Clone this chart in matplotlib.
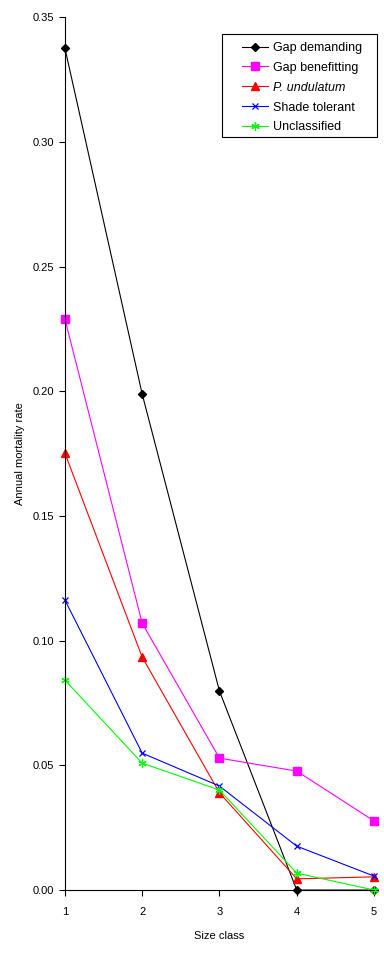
import numpy as np
import matplotlib
matplotlib.use("Agg")
from matplotlib import pyplot as plt
from matplotlib.patches import Rectangle

plt.rcParams['font.family'] = ['Liberation Sans', 'DejaVu Sans']

size_class = [1, 2, 3, 4, 5]
gap_demanding = [0.3376, 0.1989, 0.0798, 0.0, 0.0]
gap_benefitting = [0.2290, 0.1070, 0.0529, 0.0477, 0.0277]
p_undulatum = [0.1752, 0.0934, 0.0390, 0.0045, 0.0053]
shade_tolerant = [0.1163, 0.0549, 0.0417, 0.0176, 0.0056]
unclassified = [0.0842, 0.0509, 0.0401, 0.0068, 0.0]

W, H = 384, 955
fig = plt.figure(figsize=(3.84, 9.55), dpi=100)
ax = fig.add_axes([0.169, 0.068, 0.805, 0.914])

ax.plot(size_class, gap_demanding, color="black", marker="D", markersize=4, lw=0.8, label="Gap demanding", clip_on=False)
ax.plot(size_class, gap_benefitting, color="#ff00ff", marker="s", markersize=6, lw=0.8, label="Gap benefitting", clip_on=False)
ax.plot(size_class, p_undulatum, color="red", marker="^", markersize=6, lw=0.8, label="P. undulatum", clip_on=False)
ax.plot(size_class, shade_tolerant, color="blue", marker="x", markersize=5, mew=0.9, lw=0.8, label="Shade tolerant", clip_on=False)
ax.plot(size_class, unclassified, color="#00ff00", marker=(6, 2, 0), markersize=6, mew=0.9, lw=0.8, label="Unclassified", clip_on=False)

ax.set_xlim(1, 5)
ax.set_ylim(0, 0.35)
ax.set_xticks(size_class)
ax.set_yticks(np.arange(0, 0.351, 0.05))
ax.set_yticklabels(["%.2f" % v for v in np.arange(0, 0.351, 0.05)])
ax.spines["top"].set_visible(False)
ax.spines["right"].set_visible(False)
ax.tick_params(labelsize=8, length=4, width=0.8, direction="out", color="black")
ax.tick_params(axis="x", pad=8)
ax.set_xlabel("Size class", fontsize=8, labelpad=10)
ax.set_ylabel("Annual mortality rate", fontsize=8, labelpad=6)

# legend text without frame, box drawn separately (Excel style padding)
box = Rectangle((222 / W, 1 - 137 / H), 155 / W, 103 / H, transform=fig.transFigure,
                facecolor="white", edgecolor="black", lw=0.8, zorder=4, clip_on=False)
ax.add_patch(box)
leg = ax.legend(loc="upper left", bbox_to_anchor=(242 / W, 1 - 42 / H),
                bbox_transform=fig.transFigure, fontsize=9, frameon=False,
                handlelength=2.1, handletextpad=0.4, borderpad=0,
                labelspacing=0.63, borderaxespad=0)
leg.get_texts()[2].set_style("italic")
leg.set_zorder(5)

fig.savefig("out.png", dpi=100)
